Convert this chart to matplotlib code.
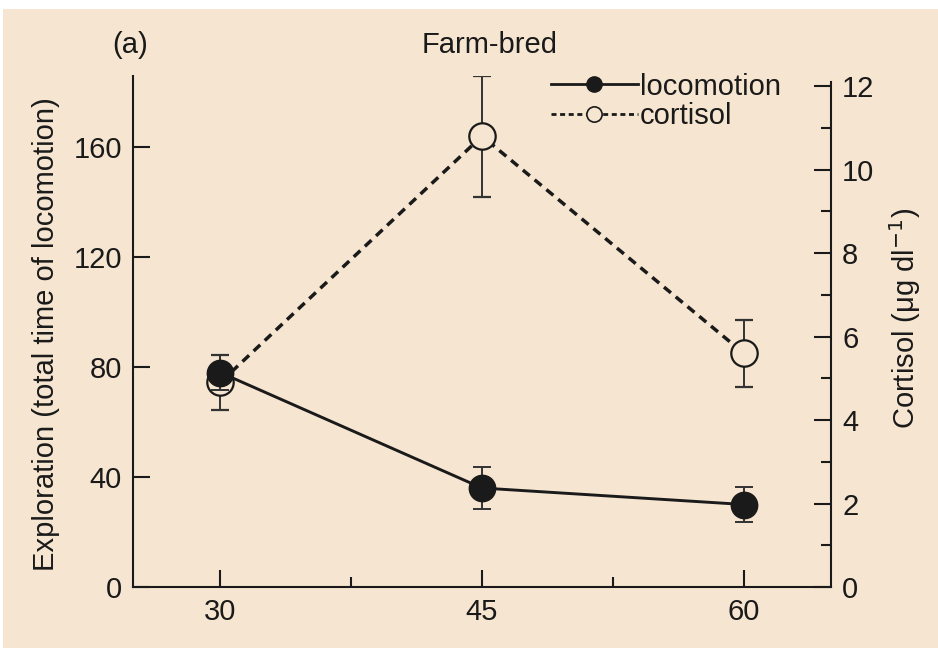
import matplotlib.pyplot as plt
from matplotlib.lines import Line2D
from matplotlib.patches import Rectangle

plt.rcParams['font.family'] = ['Liberation Sans', 'DejaVu Sans']

# data
ages = [30, 45, 60]
locomotion = [78, 36, 30]
locomotion_err = [6.5, 7.5, 6.5]
cortisol = [4.9, 10.8, 5.6]
cortisol_err = [0.65, 1.45, 0.8]

bg = '#f6e5d0'
ink = '#1a1a1a'
fs = 21

fig = plt.figure(figsize=(9.38, 6.51), dpi=100)
fig.patch.set_facecolor('white')
fig.patches.append(Rectangle((3 / 938, 3 / 651), 1 - 3 / 938, 1 - 12 / 651,
                             transform=fig.transFigure, facecolor=bg,
                             edgecolor='none', zorder=-10))

ax = fig.add_axes([133 / 938, 64 / 651, 698 / 938, 511.5 / 651])
ax2 = ax.twinx()
ax.set_zorder(ax2.get_zorder() + 1)
ax.patch.set_visible(False)
ax2.patch.set_visible(False)

# cortisol on right axis
ax2.errorbar(ages, cortisol, yerr=cortisol_err, color=ink, ls=(0, (2.6, 1.8)),
             lw=2.5, marker='o', ms=19, mfc=bg, mec=ink, mew=1.6,
             ecolor='#333333', elinewidth=1.4, capsize=6.5, capthick=1.4)

# locomotion on left axis
ax.errorbar(ages, locomotion, yerr=locomotion_err, color=ink, ls='-',
            lw=2.1, marker='o', ms=19, mfc=ink, mec=ink,
            ecolor='#333333', elinewidth=1.4, capsize=6.5, capthick=1.4)

ax.set_xlim(25, 65)
ax.set_ylim(0, 186)
ax2.set_ylim(0, 186 / 15.18)

ax.set_xticks(ages)
ax.set_xticks([37.5, 52.5], minor=True)
ax.set_yticks([0, 40, 80, 120, 160])
ax2.set_yticks([0, 2, 4, 6, 8, 10, 12])
ax2.set_yticks([1, 3, 5, 7, 9, 11], minor=True)

for a in (ax, ax2):
    a.spines['top'].set_visible(False)
    for s in a.spines.values():
        s.set_linewidth(1.5)
        s.set_color(ink)
ax.spines['right'].set_visible(False)
ax2.spines['left'].set_visible(False)
ax2.spines['bottom'].set_visible(False)
ax2.spines['right'].set_bounds(0, 12.1)

ax.tick_params(axis='both', which='major', direction='in', length=12, width=1.5,
               labelsize=fs, colors=ink, pad=8)
ax.tick_params(axis='x', which='minor', direction='in', length=7, width=1.5, color=ink)
ax.tick_params(axis='y', which='minor', left=False)
ax2.tick_params(axis='y', which='major', direction='in', length=12, width=1.5,
                labelsize=fs, colors=ink, pad=8)
ax2.tick_params(axis='y', which='minor', direction='in', length=7, width=1.5, color=ink)

ax.set_ylabel('Exploration (total time of locomotion)', fontsize=fs, color=ink)
ax.yaxis.set_label_coords(-0.105, 0.495)
ax2.set_ylabel('Cortisol (μg dl$^{-1}$)', fontsize=fs, color=ink)
ax2.yaxis.set_label_coords(1.08, 0.525)

fig.text(130 / 938, 1 - 45 / 651, '(a)', fontsize=fs, color=ink, ha='center', va='center')
fig.text(490 / 938, 1 - 45 / 651, 'Farm-bred', fontsize=fs, color=ink, ha='center', va='center')

handles = [
    Line2D([0], [0], color=ink, lw=2.0, marker='o', ms=11, mfc=ink, mec=ink,
           label='locomotion'),
    Line2D([0], [0], color=ink, lw=2.0, ls=(0, (1.8, 1.3)), marker='o', ms=11,
           mfc=bg, mec=ink, mew=1.2, label='cortisol'),
]
fig.legend(handles=handles, loc='upper left', bbox_to_anchor=(536 / 938, 1 - 58 / 651),
           frameon=False, fontsize=fs, handlelength=3.0, handletextpad=0.05,
           labelspacing=0.05, borderpad=0, labelcolor=ink)

fig.savefig('out.png', dpi=100, facecolor='white')
